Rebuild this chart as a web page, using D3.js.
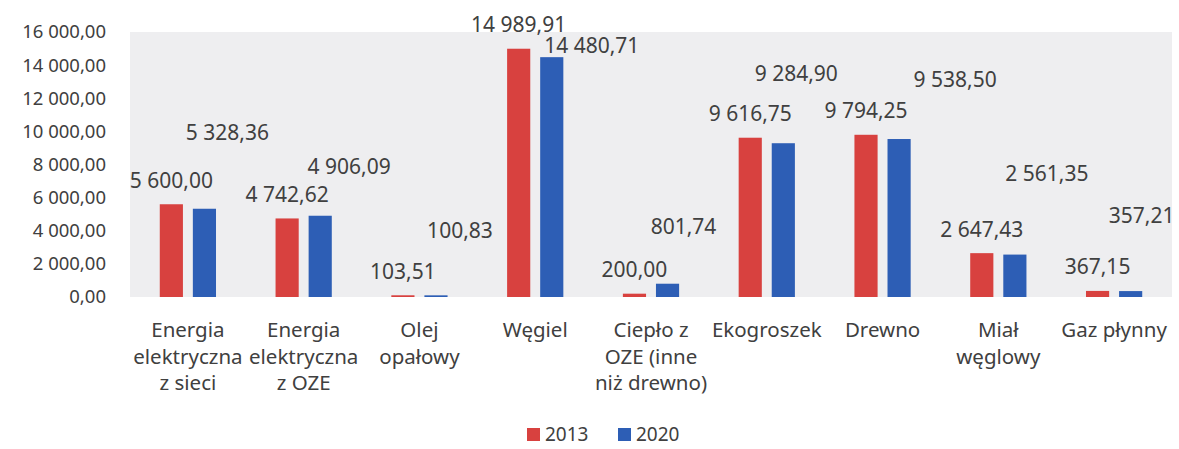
<!DOCTYPE html>
<html>
<head>
<meta charset="utf-8">
<script src="https://cdn.jsdelivr.net/npm/d3@7"></script>
<style>
  body { margin: 0; background: #fff; }
  svg { display: block; font-family: 'Noto Sans', sans-serif; }
  text { fill: #404040; }
</style>
</head>
<body>
<svg></svg>
<script>
const categories = [
  'Energia\nelektryczna\nz sieci',
  'Energia\nelektryczna\nz OZE',
  'Olej\nopałowy',
  'Węgiel',
  'Ciepło z\nOZE (inne\nniż drewno)',
  'Ekogroszek',
  'Drewno',
  'Miał\nwęglowy',
  'Gaz płynny'
]
const series = ['2013', '2020']
const values2013 = [5600.00, 4742.62, 103.51, 14989.91, 200.00, 9616.75, 9794.25, 2647.43, 367.15]
const values2020 = [5328.36, 4906.09, 100.83, 14480.71, 801.74, 9284.90, 9538.50, 2561.35, 357.21]
const yTicks = [0, 2000, 4000, 6000, 8000, 10000, 12000, 14000, 16000]

const colors = { '2013': '#d8413f', '2020': '#2d5eb5' }

// the 2020 labels sit off to the side in the original, pixel shifts [dx, dy]
const labelShift2020 = [[23, -76], [29, -49], [24, -65], [40, -12], [16, -57], [13, -70], [56, -60], [32, -81], [11, -76]]

const width = 1179
const height = 449
const plot = { left: 130, right: 1172, top: 32, bottom: 297 }

const svg = d3.select('svg')
  .attr('width', width)
  .attr('height', height)

// Polish style number: space thousands, comma decimals
const locale = d3.formatLocale({ decimal: ',', thousands: '\u00a0', grouping: [3], currency: ['', ''] })
const fmt = locale.format(',.2f')

const x0 = d3.scaleBand()
  .domain(d3.range(categories.length))
  .range([plot.left, plot.right])

const x1 = d3.scaleBand()
  .domain(series)
  .range([0, x0.bandwidth()])
  .paddingInner(0.3)
  .paddingOuter(0.9)

const y = d3.scaleLinear()
  .domain([0, 16000])
  .range([plot.bottom, plot.top])

// plot background
svg.append('rect')
  .attr('x', plot.left)
  .attr('y', plot.top)
  .attr('width', plot.right - plot.left)
  .attr('height', plot.bottom - plot.top)
  .attr('fill', '#eeeef0')

// y axis labels
const yAxis = svg.append('g')
  .attr('transform', `translate(${plot.left - 24}, 0)`)
  .call(d3.axisLeft(y).tickValues(yTicks).tickSize(0).tickPadding(0).tickFormat(fmt))
yAxis.select('.domain').remove()
yAxis.selectAll('text')
  .attr('font-size', 18.5)
  .attr('font-family', 'Noto Sans, sans-serif')
  .style('fill', '#404040')

const rows = categories.map((c, i) => ({ i, '2013': values2013[i], '2020': values2020[i] }))

const groups = svg.selectAll('.cat')
  .data(rows)
  .enter().append('g')
  .attr('class', 'cat')
  .attr('transform', (d) => `translate(${x0(d.i)}, 0)`)

groups.selectAll('rect')
  .data((d) => series.map((s) => ({ s, v: d[s], i: d.i })))
  .enter().append('rect')
  .attr('x', (d) => x1(d.s))
  .attr('y', (d) => y(d.v))
  .attr('width', x1.bandwidth())
  .attr('height', (d) => plot.bottom - y(d.v))
  .attr('fill', (d) => colors[d.s])

// value labels
groups.selectAll('.val')
  .data((d) => series.map((s) => ({ s, v: d[s], i: d.i })))
  .enter().append('text')
  .attr('class', 'val')
  .attr('text-anchor', 'middle')
  .attr('font-size', 21)
  .attr('x', (d) => x1(d.s) + x1.bandwidth() / 2 + (d.s === '2020' ? labelShift2020[d.i][0] : 0))
  .attr('y', (d) => y(d.v) + (d.s === '2020' ? labelShift2020[d.i][1] : -24) + 7.5)
  .text((d) => fmt(d.v))

// category labels
const catText = svg.append('g').selectAll('text')
  .data(categories)
  .enter().append('text')
  .attr('text-anchor', 'middle')
  .attr('font-size', 20.5)
  .attr('x', (d, i) => x0(i) + x0.bandwidth() / 2)
  .attr('y', 337)

catText.selectAll('tspan')
  .data((d) => d.split('\n'))
  .enter().append('tspan')
  .attr('x', function () { return this.parentNode.getAttribute('x') })
  .attr('dy', (d, j) => j === 0 ? 0 : 26.5)
  .text((d) => d)

// legend
const legend = svg.append('g')
  .attr('transform', 'translate(527, 428)')
const items = legend.selectAll('g')
  .data(series)
  .enter().append('g')
  .attr('transform', (d, i) => `translate(${i * 91}, 0)`)
items.append('rect')
  .attr('width', 13)
  .attr('height', 13)
  .attr('fill', (d) => colors[d])
items.append('text')
  .attr('x', 18)
  .attr('y', 13)
  .attr('font-size', 19)
  .text((d) => d)
</script>
</body>
</html>
